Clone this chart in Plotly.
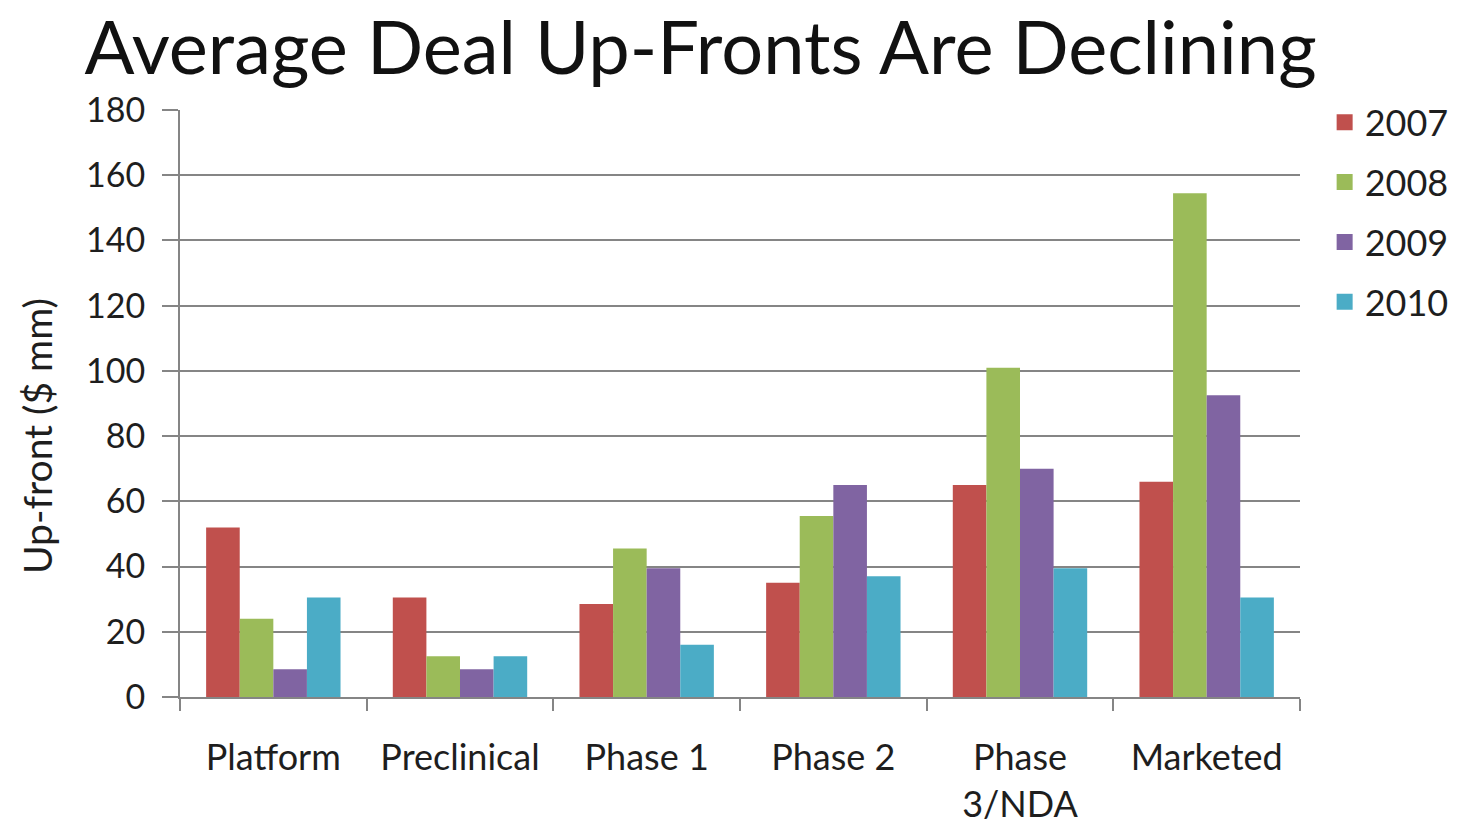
import plotly.graph_objects as go

# Average up-front payment per deal, $ mm, by development stage and year
stages = ["Platform", "Preclinical", "Phase 1", "Phase 2", "Phase<br>3/NDA", "Marketed"]
years = ["2007", "2008", "2009", "2010"]
upfront_2007 = [52, 30.5, 28.5, 35, 65, 66]
upfront_2008 = [24, 12.5, 45.5, 55.5, 101, 154.5]
upfront_2009 = [8.5, 8.5, 39.5, 65, 70, 92.5]
upfront_2010 = [30.5, 12.5, 16, 37, 39.5, 30.5]
y_ticks = [0, 20, 40, 60, 80, 100, 120, 140, 160, 180]

series = [upfront_2007, upfront_2008, upfront_2009, upfront_2010]
colors = ["#C0504D", "#9BBB59", "#8064A2", "#4BACC6"]

FONT = "Lato, 'Open Sans', sans-serif"
GRID = "#858585"
TEXT = "#1e1e1e"

fig = go.Figure()
for name, vals, col in zip(years, series, colors):
    fig.add_trace(go.Bar(
        name=name, x=stages, y=vals, legendgroup=name, showlegend=False,
        marker=dict(color=col, line=dict(width=0)),
    ))
    # legend key: a larger square swatch for each year
    fig.add_trace(go.Scatter(
        name=name, x=[None], y=[None], mode="markers", legendgroup=name,
        marker=dict(symbol="square", size=18, color=col),
    ))

fig.update_layout(
    width=1457, height=825,
    paper_bgcolor="white", plot_bgcolor="white",
    margin=dict(l=180, r=157, t=110, b=128, autoexpand=False),
    barmode="group", bargap=0.28, bargroupgap=0,
    font=dict(family=FONT, color=TEXT, size=30),
    title=dict(
        text="Average Deal Up-Fronts Are Declining",
        x=0.058, xref="container", xanchor="left",
        y=0.9418, yref="container", yanchor="middle",
        font=dict(family=FONT, size=74, color="#111111"),
    ),
    legend=dict(
        x=1.022, xanchor="left", y=1.03, yanchor="top",
        font=dict(size=36, color=TEXT),
        itemwidth=30, tracegroupgap=10, traceorder="grouped",
        bgcolor="rgba(0,0,0,0)",
    ),
    xaxis=dict(
        showline=True, linecolor=GRID, linewidth=2,
        ticks="outside", tickson="boundaries", ticklen=12, tickcolor=GRID, tickwidth=2,
        tickfont=dict(size=36, color=TEXT),
        ticklabelstandoff=28,
        showgrid=False, automargin=False,
    ),
    yaxis=dict(
        range=[0, 180], tickvals=y_ticks,
        showline=True, linecolor=GRID, linewidth=2,
        ticks="outside", ticklen=16, tickcolor=GRID, tickwidth=2,
        showgrid=True, gridcolor=GRID, gridwidth=2,
        zeroline=False, automargin=False,
        tickfont=dict(size=34, color=TEXT),
        ticklabelstandoff=10,
    ),
)

# Rotated axis title, placed in pixel terms relative to the plot area
plot_w = 1457 - 180 - 157
plot_h = 825 - 110 - 128
fig.add_annotation(
    text="Up-front ($ mm)", textangle=-90,
    x=(37 - 180) / plot_w, xref="paper", xanchor="center",
    y=(825 - 128 - 436) / plot_h, yref="paper", yanchor="middle",
    showarrow=False, font=dict(size=39, color=TEXT),
)

fig.write_html("out.html")
